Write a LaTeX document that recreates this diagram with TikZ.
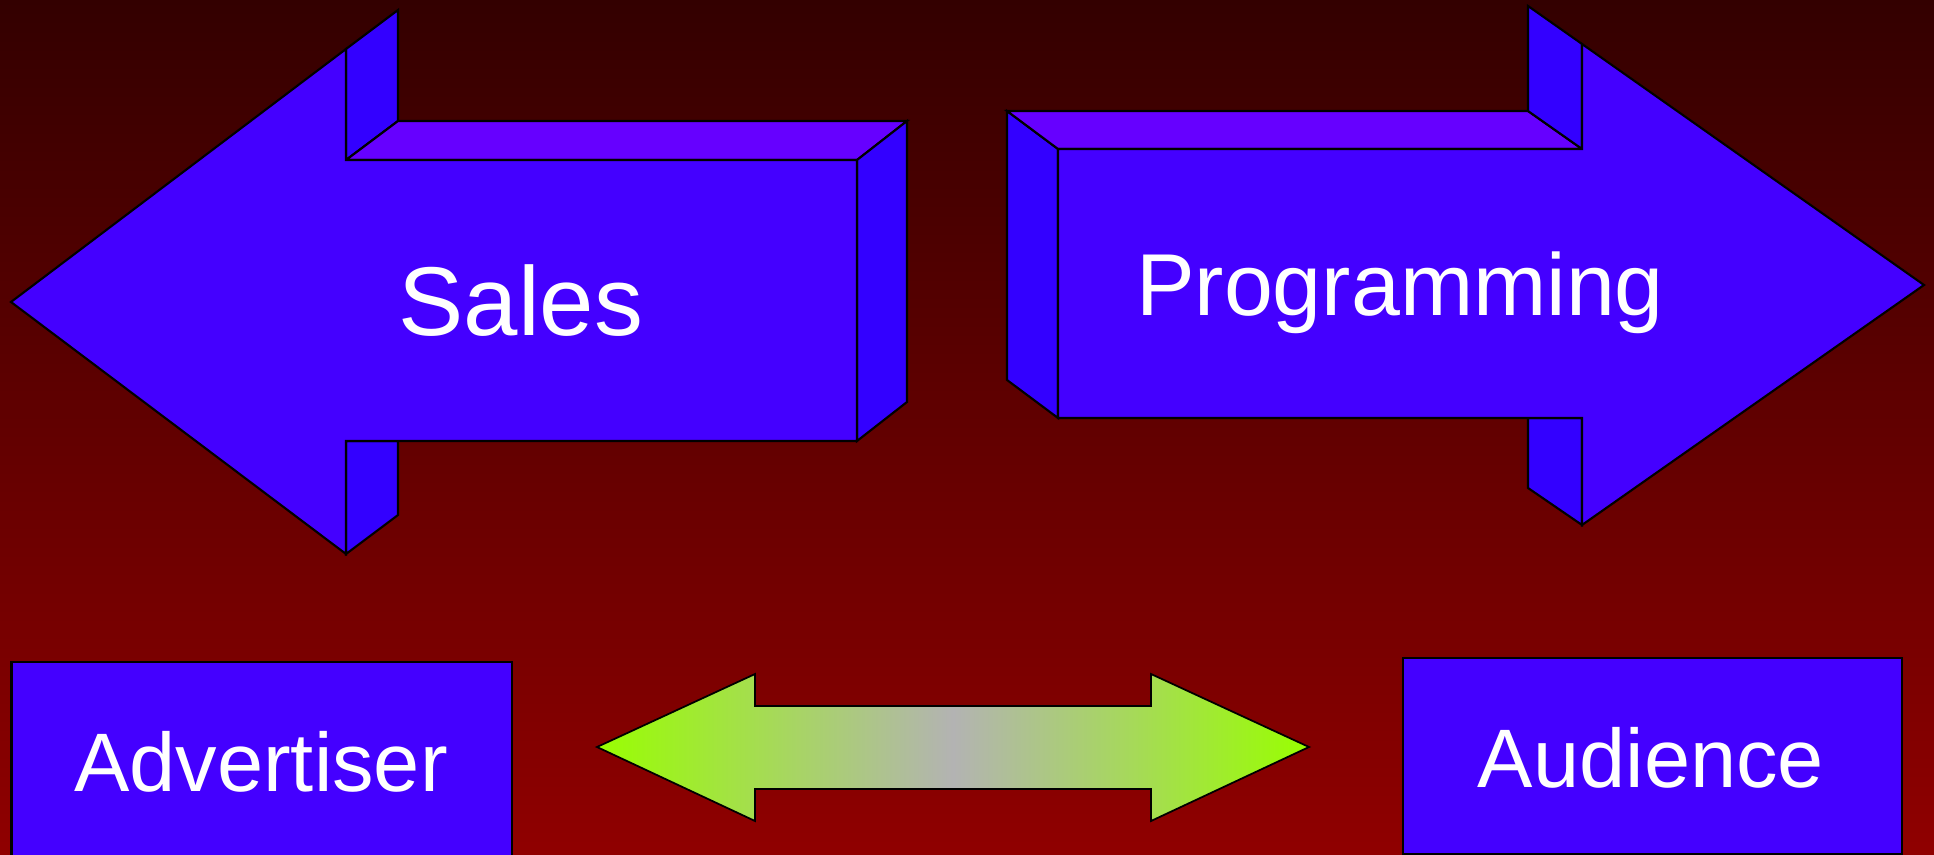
\documentclass[tikz,border=0pt]{standalone}
\usepackage{fontspec}
\setmainfont{Liberation Sans}
\definecolor{bgtop}{HTML}{330000}
\definecolor{bgbot}{HTML}{900000}
\definecolor{frontblue}{HTML}{4400FF}
\definecolor{topblue}{HTML}{6600FF}
\definecolor{sideblue}{HTML}{3300FF}
\definecolor{limegreen}{HTML}{99FF00}
\definecolor{midgrey}{HTML}{B3B3B3}
\tikzset{
  face/.style={draw=black, line width=0.6pt, line join=miter},
  frontface/.style={face, fill=frontblue},
  topf/.style={face, fill=topblue},
  sidef/.style={face, fill=sideblue},
  lbl/.style={text=white, inner sep=0pt, anchor=base},
  boxf/.style={draw=black, line width=0.6pt, fill=frontblue},
}
\begin{document}
\begin{tikzpicture}[x=0.01cm, y=-0.01cm]
\useasboundingbox (0,0) rectangle (1934,855);
\shade[top color=bgtop, bottom color=bgbot] (0,0) rectangle (1934,855);

% Sales arrow (pointing left)
\path[sidef] (346,49) -- (398,10) -- (398,121) -- (346,160) -- cycle;
\path[topf] (346,160) -- (398,121) -- (907,121) -- (857,160) -- cycle;
\path[sidef] (857,160) -- (907,121) -- (907,402) -- (857,441) -- cycle;
\path[sidef] (346,441) -- (398,441) -- (398,515) -- (346,554) -- cycle;
\path[frontface] (11,302) -- (346,49) -- (346,160) -- (857,160) -- (857,441) -- (346,441) -- (346,554) -- cycle;
\node[lbl, font=\fontsize{27.8}{30}\selectfont] (sales) at (521,336) {Sales};

% Programming arrow (pointing right)
\path[sidef] (1007,111) -- (1058,149) -- (1058,418) -- (1007,380) -- cycle;
\path[topf] (1007,111) -- (1528,111) -- (1582,149) -- (1058,149) -- cycle;
\path[sidef] (1528,6) -- (1582,44) -- (1582,149) -- (1528,111) -- cycle;
\path[sidef] (1528,418) -- (1582,418) -- (1582,525) -- (1528,488) -- cycle;
\path[frontface] (1058,149) -- (1582,149) -- (1582,44) -- (1924,285) -- (1582,525) -- (1582,418) -- (1058,418) -- cycle;
\node[lbl, font=\fontsize{25}{28}\selectfont] (prog) at (1400,316) {Programming};

% Boxes
\path[boxf] (11.5,662) rectangle (512,860);
\node[lbl, font=\fontsize{23.6}{26}\selectfont] (adv) at (261,791) {Advertiser};
\path[boxf] (1403,658) rectangle (1902,854);
\node[lbl, font=\fontsize{23.6}{26}\selectfont] (aud) at (1651,787) {Audience};

% double arrow
\shadedraw[left color=limegreen, right color=limegreen, middle color=midgrey, draw=black, line width=0.5pt, line join=miter]
  (597,747) -- (755,674) -- (755,706) -- (1151,706) -- (1151,674) -- (1309,747)
  -- (1151,821) -- (1151,789) -- (755,789) -- (755,821) -- cycle;
\end{tikzpicture}
\end{document}
